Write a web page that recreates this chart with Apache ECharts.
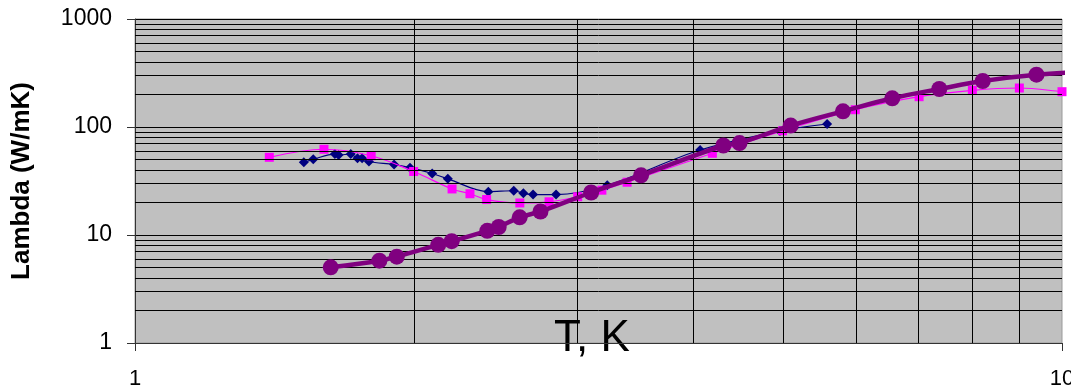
<!DOCTYPE html>
<html>
<head>
<meta charset="utf-8">
<script src="https://cdn.jsdelivr.net/npm/echarts@6/dist/echarts.min.js"></script>
<style>
html,body{margin:0;padding:0;background:#fff;}
#c{width:1071px;height:388px;}
</style>
</head>
<body>
<div id="c"></div>
<script>
// ---- data (T in K, Lambda in W/mK) ----
const navyT = [1.521, 1.557, 1.643, 1.658, 1.709, 1.738, 1.758, 1.788, 1.903, 1.980, 2.092, 2.175, 2.405, 2.562, 2.624, 2.688, 2.846, 3.232, 4.07, 4.963, 5.580];
const navyL = [47.1, 50.2, 56.2, 55.0, 56.2, 51.4, 51.4, 47.9, 44.9, 42.0, 37.1, 33.1, 25.2, 25.7, 24.3, 23.7, 23.7, 28.9, 61.2, 91.8, 106.6];

const magentaT = [1.396, 1.599, 1.798, 1.998, 2.198, 2.298, 2.395, 2.601, 2.797, 3.003, 3.189, 3.395, 4.196, 4.995, 5.984, 7.012, 8.004, 8.995, 10.0, 11.0];
const magentaL = [52.4, 62.2, 54.2, 38.7, 26.7, 24.1, 21.3, 19.8, 20.3, 22.6, 26.0, 30.8, 57.1, 92.2, 144.6, 190.8, 218.7, 229.6, 212.3, 195];

const purpleT = [1.626, 1.835, 1.916, 2.124, 2.196, 2.399, 2.468, 2.600, 2.738, 3.105, 3.515, 4.312, 4.489, 5.097, 5.804, 6.560, 7.373, 8.213, 9.386, 11.0];
const purpleL = [5.02, 5.78, 6.30, 8.11, 8.76, 10.94, 11.86, 14.58, 16.51, 24.75, 35.7, 67.4, 71.0, 103.0, 139.7, 184.4, 224.8, 266.7, 305, 330];

const xTickLabels = ['1', '10'];
const yTickLabels = ['1', '10', '100', '1000'];
const minorY = [2,3,4,5,6,7,8,9,20,30,40,50,60,70,80,90,200,300,400,500,600,700,800,900];
const minorX = [2,3,4,5,6,7,8,9];

const zip = (a, b) => a.map((v, i) => [v, b[i]]);
const FONT = 'Liberation Sans, Arial, sans-serif';

const chart = echarts.init(document.getElementById('c'), null, {renderer: 'canvas'});
chart.setOption({
  animation: false,
  backgroundColor: '#ffffff',
  grid: {
    left: 135, right: 9, top: 19, bottom: 45,
    outerBoundsMode: 'none', containLabel: false,
    show: true, backgroundColor: '#C0C0C0', borderColor: '#9a9a9a', borderWidth: 1
  },
  xAxis: {
    type: 'log', logBase: 10, min: 1, max: 10,
    name: 'T, K', nameLocation: 'middle', nameGap: -26, nameMoveOverlap: false,
    nameTextStyle: {fontFamily: FONT, fontSize: 44, color: '#000', padding: [0, 13, 0, 0], verticalAlign: 'top'},
    axisLine: {show: true, onZero: false, lineStyle: {color: '#333', width: 1}},
    axisTick: {show: true, inside: false, length: 8, lineStyle: {color: '#333'}},
    axisLabel: {
      fontFamily: FONT, fontSize: 22, color: '#000', margin: 25,
      formatter: v => xTickLabels.indexOf(String(Math.round(v))) >= 0 ? String(Math.round(v)) : ''
    },
    splitLine: {show: false},
    minorTick: {show: false}
  },
  yAxis: {
    type: 'log', logBase: 10, min: 1, max: 1000,
    name: 'Lambda (W/mK)', nameLocation: 'middle', nameGap: 100, nameRotate: 90,
    nameTextStyle: {fontFamily: FONT, fontSize: 26, fontWeight: 'bold', color: '#000'},
    axisLine: {show: true, lineStyle: {color: '#333', width: 1}},
    axisTick: {show: true, inside: false, length: 8, lineStyle: {color: '#333'}},
    axisLabel: {
      fontFamily: FONT, fontSize: 23, color: '#000', margin: 23,
      formatter: v => yTickLabels.indexOf(String(Math.round(v))) >= 0 ? String(Math.round(v)) : ''
    },
    splitLine: {show: true, lineStyle: {color: '#000', width: 1}}
  },
  series: [
    {
      name: 'grid', type: 'line', data: [], silent: true, z: 1,
      markLine: {
        silent: true, symbol: 'none', animation: false,
        label: {show: false},
        lineStyle: {color: '#000', width: 1, type: 'solid'},
        emphasis: {disabled: true},
        data: minorY.map(v => ({yAxis: v})).concat(minorX.map(v => ({xAxis: v})))
      }
    },
    {
      name: 'navy', type: 'line', data: zip(navyT, navyL), z: 3, clip: false,
      smooth: 0.35, symbol: 'diamond', symbolSize: [10, 10], showAllSymbol: true,
      lineStyle: {color: '#000080', width: 1.2},
      itemStyle: {color: '#000080'}
    },
    {
      name: 'magenta', type: 'line', data: zip(magentaT, magentaL), z: 4, clip: false,
      smooth: 0.35, symbol: 'rect', symbolSize: 9, showAllSymbol: true,
      lineStyle: {color: '#FF00FF', width: 1.2},
      itemStyle: {color: '#FF00FF'}
    },
    {
      name: 'purple', type: 'line', data: zip(purpleT, purpleL), z: 5, clip: false,
      smooth: 0.35, symbol: 'circle', symbolSize: 16, showAllSymbol: true,
      lineStyle: {color: '#800080', width: 4.5},
      itemStyle: {color: '#800080'}
    }
  ]
});
</script>
</body>
</html>
